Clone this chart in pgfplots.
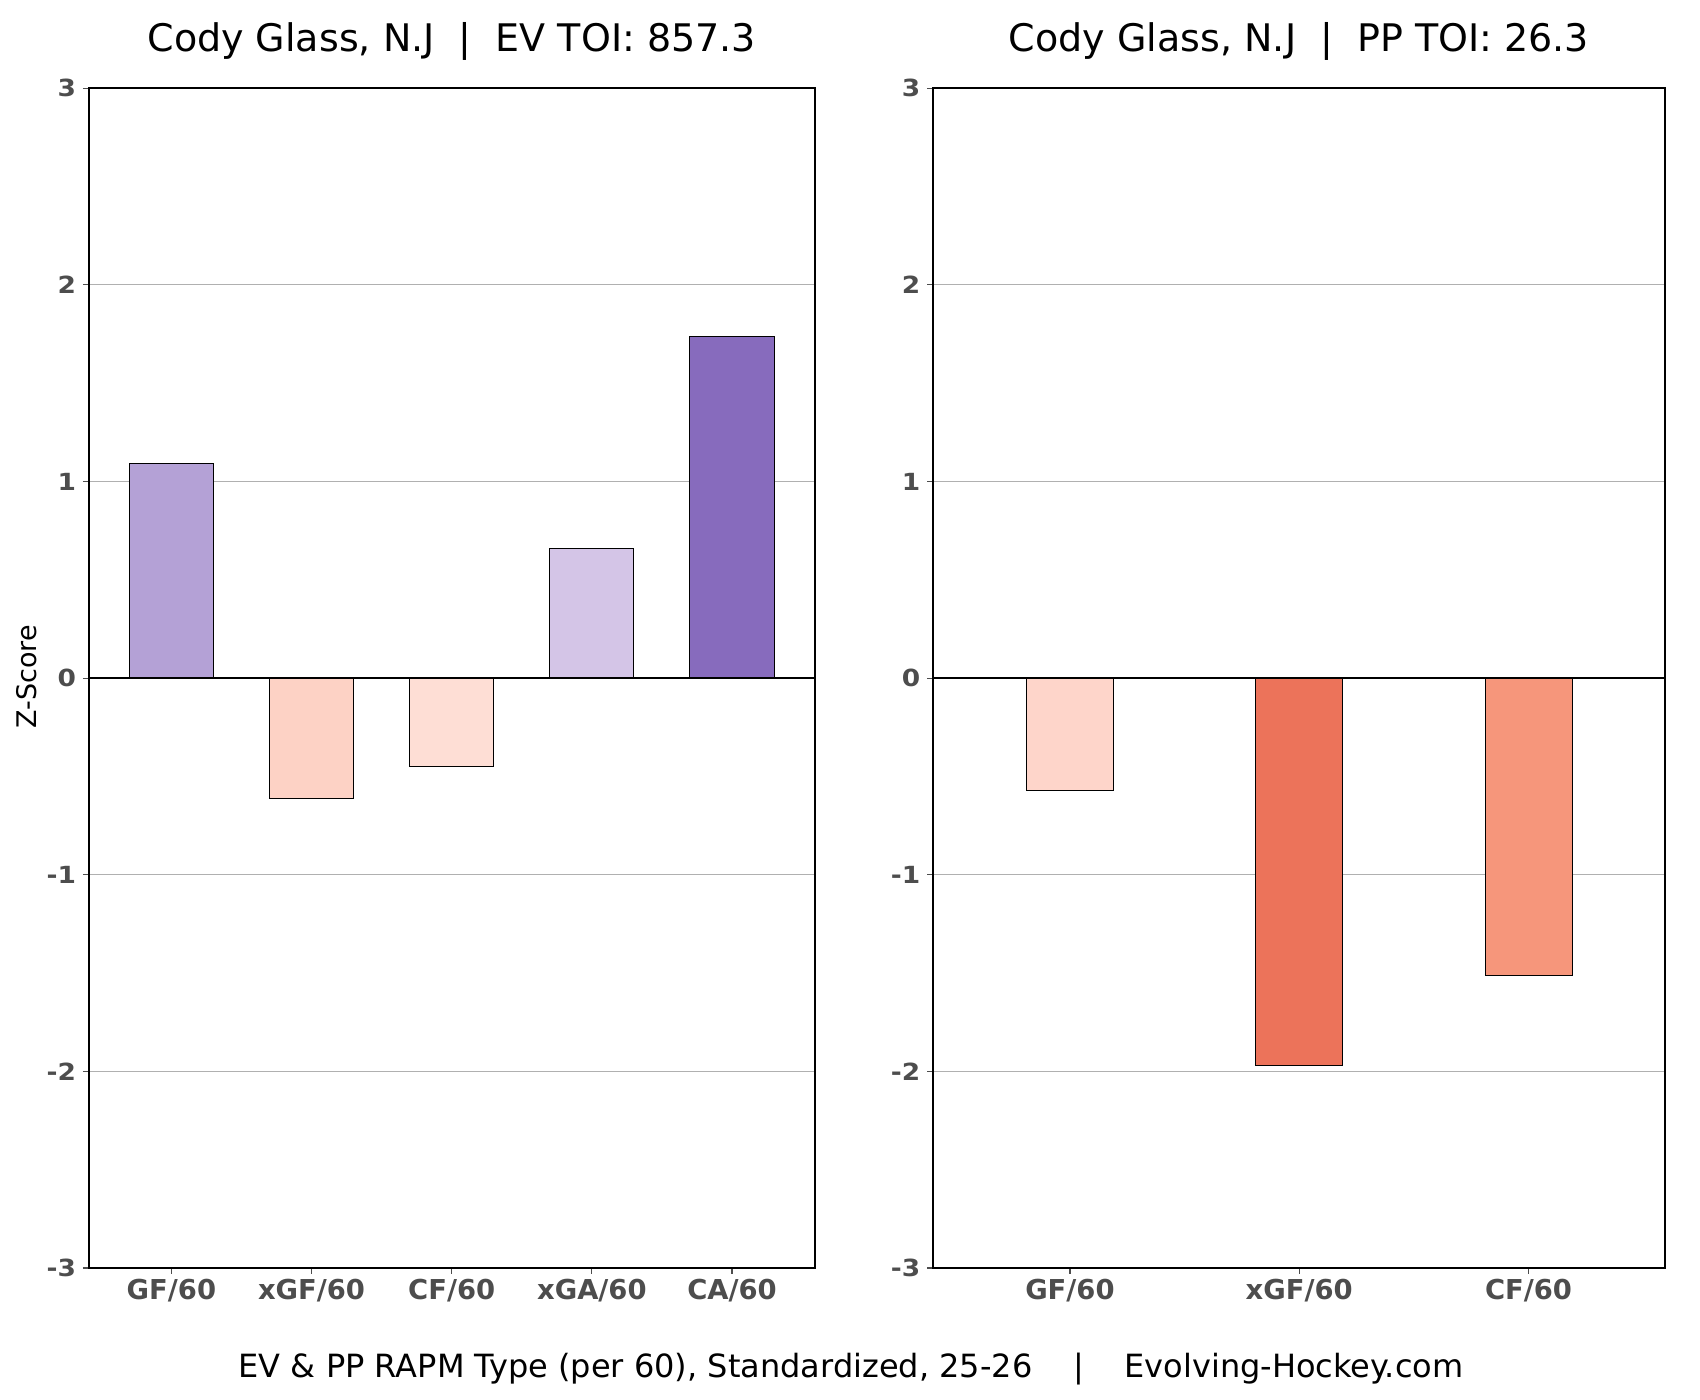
\documentclass[border=0pt]{standalone}
\usepackage{fontspec}
\setmainfont{DejaVu Sans}
\usepackage{graphicx}
\usepackage{pgfplots}
\pgfplotsset{compat=1.18}

\definecolor{evGF}{HTML}{B4A1D6}
\definecolor{evxGF}{HTML}{FDD2C5}
\definecolor{evCF}{HTML}{FEDED5}
\definecolor{evxGA}{HTML}{D4C5E7}
\definecolor{evCA}{HTML}{876BBD}
\definecolor{ppGF}{HTML}{FED5CA}
\definecolor{ppxGF}{HTML}{EC735A}
\definecolor{ppCF}{HTML}{F6967B}
\definecolor{tickgray}{HTML}{4D4D4D}
\definecolor{gridgray}{HTML}{B0B0B0}

\newcommand{\yl}[1]{\scalebox{1.12}[1]{#1}}

\pgfplotsset{
  rapm/.style={
    scale only axis,
    height=589.85pt,
    ymin=-3, ymax=3,
    enlargelimits=false,
    ytick={-3,-2,-1,0,1,2,3},
    yticklabels={\yl{-3},\yl{-2},\yl{-1},\yl{0},\yl{1},\yl{2},\yl{3}},
    ymajorgrids,
    grid style={gridgray, line width=0.5pt},
    axis line style={black, line width=0.9pt},
    tick align=outside,
    major tick length=2.9pt,
    tick style={tickgray, line width=0.6pt},
    xtick pos=bottom, ytick pos=left,
    xticklabel style={font=\fontsize{13.7pt}{15pt}\selectfont\bfseries, text=tickgray, anchor=base, yshift=-12.7pt},
    yticklabel style={font=\fontsize{11.8pt}{13pt}\selectfont\bfseries, text=tickgray, anchor=east, inner sep=0pt, xshift=-3.3pt},
    title style={font=\fontsize{19pt}{21pt}\selectfont, anchor=base, at={(0.5,1)}, yshift=12.15pt},
  },
  bar/.style={ybar, bar shift=0pt, draw=black, line width=0.5pt},
}

\begin{document}
\begin{tikzpicture}
\path[use as bounding box] (0,0) rectangle (850pt,700pt);

\begin{axis}[rapm,
  at={(44.35pt,66pt)}, anchor=south west,
  width=363pt,
  xmin=-0.59, xmax=4.59,
  xtick={0,1,2,3,4},
  xticklabels={GF/60,xGF/60,CF/60,xGA/60,CA/60},
  title={Cody Glass, N.J~~|~~EV TOI: 857.3},
]
\addplot[bar, bar width=0.6, fill=evGF] coordinates {(0,1.09)};
\addplot[bar, bar width=0.6, fill=evxGF] coordinates {(1,-0.61)};
\addplot[bar, bar width=0.6, fill=evCF] coordinates {(2,-0.45)};
\addplot[bar, bar width=0.6, fill=evxGA] coordinates {(3,0.66)};
\addplot[bar, bar width=0.6, fill=evCA] coordinates {(4,1.74)};
\draw[black, line width=0.9pt] (axis cs:-0.59,0) -- (axis cs:4.59,0);
\end{axis}

\begin{axis}[rapm,
  at={(466.5pt,66pt)}, anchor=south west,
  width=366pt,
  xmin=-0.597, xmax=2.595,
  xtick={0,1,2},
  xticklabels={GF/60,xGF/60,CF/60},
  title={Cody Glass, N.J~~|~~PP TOI: 26.3},
]
\addplot[bar, bar width=0.38, fill=ppGF] coordinates {(0,-0.57)};
\addplot[bar, bar width=0.38, fill=ppxGF] coordinates {(1,-1.97)};
\addplot[bar, bar width=0.38, fill=ppCF] coordinates {(2,-1.51)};
\draw[black, line width=0.9pt] (axis cs:-0.597,0) -- (axis cs:2.595,0);
\end{axis}

\node[rotate=90, font=\fontsize{13.5pt}{15pt}\selectfont] at (13.5pt,361.5pt) {Z-Score};
\node[anchor=base, font=\fontsize{16pt}{18pt}\selectfont] at (425.5pt,11pt) {EV \& PP RAPM Type (per 60), Standardized, 25-26~~~~|~~~~Evolving-Hockey.com};
\end{tikzpicture}
\end{document}
